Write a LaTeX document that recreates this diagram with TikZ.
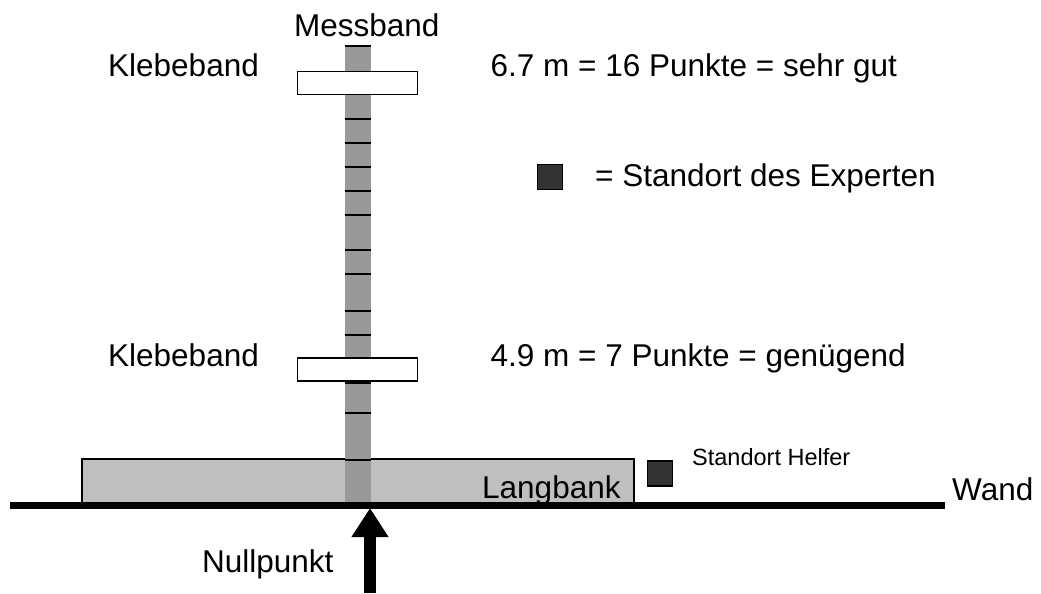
\documentclass[tikz,border=0pt]{standalone}
\usepackage{fontspec}
\setmainfont{Liberation Sans}
\usetikzlibrary{arrows.meta}
\begin{document}
\begin{tikzpicture}[x=1pt,y=-1pt,
  lbl/.style={anchor=base west,inner sep=0pt,font=\fontsize{31.5}{36}\selectfont},
  smalllbl/.style={anchor=base west,inner sep=0pt,font=\fontsize{23.5}{28}\selectfont},
  tapebox/.style={draw=black,line width=1.6pt,fill=white,minimum width=120pt,minimum height=23pt,inner sep=0pt},
  tickline/.style={line width=1.8pt},
  marker/.style={draw=black,line width=1.6pt,fill=black!80,minimum size=25pt,inner sep=0pt},
  benchbox/.style={fill=black!25},
  wallline/.style={line width=7pt},
  nullarrow/.style={line width=12pt,-{Triangle[width=35pt,length=29pt]}}]
\useasboundingbox (0,0) rectangle (1041,594);
% bench
\fill[benchbox] (82,459) rectangle (634,502);
\draw[line width=1.6pt] (82,502) -- (82,459) -- (634,459) -- (634,502);
% measuring tape
\fill[black!40] (345,46) rectangle (371,505);
\foreach \y in {46,119,143,167,191,215,250,274,311,335,383,413,460}
  \draw[tickline] (345,\y) -- (371,\y);
% wall
\draw[wallline] (10,505.5) -- (945,505.5);
% tape markers
\node[tapebox] (k1) at (357.5,83) {};
\node[tapebox] (k2) at (357.5,369.5) {};
% squares
\node[marker] (expert) at (550,177) {};
\node[marker] (helfer) at (660,473.5) {};
% labels
\node[lbl] (messband) at (294,37) {Messband};
\node[lbl] (kl1) at (108,77) {Klebeband};
\node[lbl] (kl2) at (108,366) {Klebeband};
\node[lbl] (gut) at (490.5,77) {6.7 m = 16 Punkte = sehr gut};
\node[lbl] (exp) at (595,186) {= Standort des Experten};
\node[lbl] (gen) at (490.5,366) {4.9 m = 7 Punkte = genügend};
\node[smalllbl] (helf) at (692,465) {Standort Helfer};
\node[lbl] (lang) at (482,498) {Langbank};
\node[lbl] (wand) at (952,500) {Wand};
\node[lbl] (null) at (202,572) {Nullpunkt};
% arrow
\coordinate (arrowfoot) at (370,593);
\coordinate (nullpt) at (370,508);
\draw[nullarrow] (arrowfoot) -- (nullpt);
\end{tikzpicture}
\end{document}
